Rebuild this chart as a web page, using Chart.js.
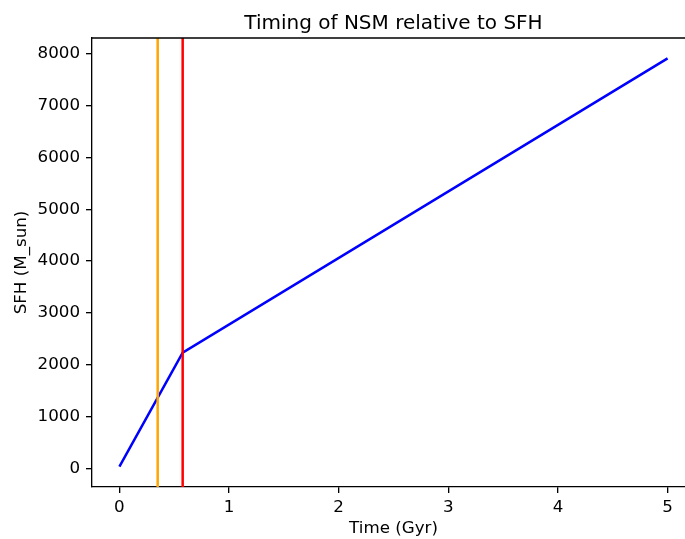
<!DOCTYPE html>
<html>
<head>
<meta charset="utf-8">
<script src="https://cdn.jsdelivr.net/npm/chart.js@4/dist/chart.umd.min.js"></script>
<style>
html,body{margin:0;padding:0;overflow:hidden;background:#fff;width:685px;height:539px;}
canvas{display:block;}
</style>
</head>
<body>
<canvas id="c" width="700" height="539"></canvas>
<script>
// Data
const timeGyr = [0, 0.577, 5];
const sfhMsun = [38, 2236, 7907];
const vlineX = [0.349, 0.577];
const vlineColors = ['orange', 'red'];
const xTicks = [0, 1, 2, 3, 4, 5];
const yTicks = [0, 1000, 2000, 3000, 4000, 5000, 6000, 7000, 8000];
const xMin = -0.25, xMax = 5.25;
const yMin = -355, yMax = 8301;

const FONT = "'DejaVu Sans', sans-serif";
const TICK = 16.7;

const vlinePlugin = {
  id: 'vlines',
  afterDatasetsDraw(chart) {
    const ctx = chart.ctx, a = chart.chartArea, xs = chart.scales.x;
    ctx.save();
    ctx.beginPath(); ctx.rect(a.left, a.top, a.right - a.left, a.bottom - a.top); ctx.clip();
    vlineX.forEach((v, i) => {
      const px = xs.getPixelForValue(v);
      ctx.strokeStyle = vlineColors[i];
      ctx.lineWidth = 2.5;
      ctx.beginPath(); ctx.moveTo(px, a.top); ctx.lineTo(px, a.bottom); ctx.stroke();
    });
    ctx.restore();
    ctx.save();
    ctx.strokeStyle = '#000'; ctx.lineWidth = 1.33;
    ctx.beginPath();
    ctx.moveTo(a.left, a.top); ctx.lineTo(a.right, a.top); ctx.lineTo(a.right, a.bottom);
    ctx.stroke();
    ctx.restore();
  }
};

new Chart(document.getElementById('c'), {
  type: 'line',
  data: {
    datasets: [{
      data: timeGyr.map((t, i) => ({x: t, y: sfhMsun[i]})),
      borderColor: 'blue',
      borderWidth: 2.5,
      pointRadius: 0,
      tension: 0,
      fill: false
    }]
  },
  options: {
    responsive: false,
    animation: false,
    layout: {padding: {left: 0, right: 5, top: 0, bottom: 0}},
    plugins: {
      legend: {display: false},
      tooltip: {enabled: false},
      title: {
        display: true,
        fullSize: false,
        text: 'Timing of NSM relative to SFH',
        color: '#000',
        font: {family: FONT, size: 20, weight: 'normal', lineHeight: 1.2},
        padding: {top: 11.5, bottom: 2.5},
        align: 'center'
      }
    },
    scales: {
      x: {
        type: 'linear',
        min: xMin, max: xMax,
        afterBuildTicks: s => { s.ticks = xTicks.map(v => ({value: v})); },
        afterFit: s => { s.height = 52; },
        grid: {display: true, drawOnChartArea: false, drawTicks: true, tickLength: 6, color: '#000', tickColor: '#000', lineWidth: 1.33},
        border: {display: true, color: '#000', width: 1.33},
        ticks: {color: '#000', font: {family: FONT, size: TICK}, padding: 4.5, maxRotation: 0, callback: v => String(v)},
        title: {display: true, text: 'Time (Gyr)', color: '#000', font: {family: FONT, size: TICK, lineHeight: 1.2}, padding: {top: 0, bottom: 0.5}}
      },
      y: {
        type: 'linear',
        min: yMin, max: yMax,
        afterBuildTicks: s => { s.ticks = yTicks.map(v => ({value: v})); },
        afterFit: s => { s.width = 92; },
        grid: {display: true, drawOnChartArea: false, drawTicks: true, tickLength: 6, color: '#000', tickColor: '#000', lineWidth: 1.33},
        border: {display: true, color: '#000', width: 1.33},
        ticks: {color: '#000', font: {family: FONT, size: TICK}, padding: 6, callback: v => String(v)},
        title: {display: true, text: 'SFH (M_sun)', color: '#000', font: {family: FONT, size: TICK, lineHeight: 1.2}, padding: {top: 12, bottom: 0}}
      }
    }
  },
  plugins: [vlinePlugin]
});
</script>
</body>
</html>
